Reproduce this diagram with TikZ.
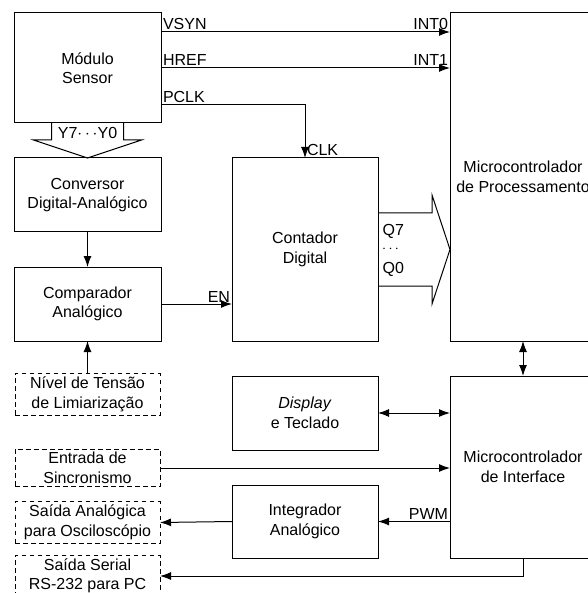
\documentclass[tikz,border=0pt]{standalone}
\usepackage{fontspec}
\setmainfont{Liberation Sans}
\usetikzlibrary{calc,arrows.meta}

\tikzset{
  blk/.style={draw, line width=1pt, align=center, minimum width=147pt, outer sep=0pt,
    font=\fontsize{16}{19.5}\selectfont},
  ext/.style={blk, dash pattern=on 4.5pt off 3.5pt, minimum width=145pt},
  sig/.style={line width=1pt, -{Latex[length=11pt,width=8pt]}},
  dsig/.style={line width=1pt, {Latex[length=11pt,width=8pt]}-{Latex[length=11pt,width=8pt]}},
  lbl/.style={font=\fontsize{16}{18}\selectfont, inner sep=1.5pt}
}

\begin{document}
\begin{tikzpicture}[x=1pt, y=-1pt]
  \useasboundingbox (0,0) rectangle (587,593);

  % Left column
  \node[blk, minimum height=110pt] (sensor) at (87.5, 68) {Módulo\\Sensor};
  \node[blk, minimum height=74pt] (dac) at (87.5, 195) {Conversor\\Digital-Analógico};
  \node[blk, minimum height=74pt] (comp) at (87.5, 304) {Comparador\\Analógico};
  \node[ext, minimum height=35pt] (nivel) at (87.5, 394.5) {Nível de Tensão\\de Limiarização};
  \node[ext, minimum height=36pt] (sync) at (87.5, 468) {Entrada de\\Sincronismo};
  \node[ext, minimum height=39pt] (saida) at (87.5, 522.5) {Saída Analógica\\para Osciloscópio};
  \node[ext, minimum height=36pt] (serial) at (87.5, 576) {Saída Serial\\RS-232 para PC};

  % Middle column
  \node[blk, minimum width=146pt, minimum height=183pt] (counter) at (305, 249.5) {Contador\\Digital};
  \node[blk, minimum width=146pt, minimum height=74pt] (display) at (305, 413) {\textit{Display}\\e Teclado};
  \node[blk, minimum width=146pt, minimum height=73pt] (integ) at (305, 521.5) {Integrador\\Analógico};

  % Microcontrollers (cut by the right edge)
  \node[blk, minimum width=146pt, minimum height=328pt] (mcproc) at (523, 177) {Microcontrolador\\de Processamento};
  \node[blk, minimum width=146pt, minimum height=182pt] (mcif) at (523, 467) {Microcontrolador\\de Interface};

  % Sensor signals
  \draw[sig] ($(sensor.north east)+(0,19)$) node[lbl, above right] {VSYN}
    -- ($(mcproc.west)!(sensor.north east)!(mcproc.west)+(0,19)$) node[lbl, above left] {INT0};
  \draw[sig] (sensor.east) node[lbl, above right] {HREF}
    -- (sensor.east -| mcproc.west) node[lbl, above left] {INT1};
  \coordinate (pclk) at ($(sensor.north east)+(0,92)$);
  \draw[sig] (pclk) node[lbl, above right] {PCLK} -| (counter.north)
    node[lbl, above right] {CLK};

  % Y7...Y0 bus
  \draw[line width=1pt] ($(sensor.south)+(-36,0)$) -- ++(0,17) -- ++(-18,0) -- (dac.north)
    -- ($(sensor.south)+(54,17)$) -- ++(-18,0) -- ++(0,-17);
  \node[lbl] (ybus) at ($(sensor.south)+(0,9.5)$) {Y7$\cdots$Y0};

  \draw[sig] (dac) -- (comp);
  \draw[sig] (nivel) -- (comp);
  \draw[sig] (comp.east) -- (comp.east -| counter.west) node[lbl, above left] {EN};

  % Q7...Q0 bus
  \draw[line width=1pt] ($(counter.east)+(0,-36.5)$) -- ++(54,0) -- ++(0,-18)
    -- (mcproc.west |- counter.east) -- ($(counter.east)+(54,54.5)$) -- ++(0,-18) -- ++(-54,0);
  \node[lbl, anchor=west, inner sep=0pt] (q7) at ($(counter.east)+(4.5,-18.5)$) {Q7};
  \node[lbl, anchor=west, inner sep=0pt, font=\fontsize{14}{14}\selectfont] (qdots) at ($(counter.east)+(4,0)$) {$\cdots$};
  \node[lbl, anchor=west, inner sep=0pt] (q0) at ($(counter.east)+(4.5,19.5)$) {Q0};

  % Interface side
  \draw[dsig] (mcproc) -- (mcif);
  \draw[dsig] (display.east) -- (display.east -| mcif.west);
  \draw[sig] (sync.east) -- (sync.east -| mcif.west);
  \draw[sig] (mcif.west |- integ.east) node[lbl, above left] {PWM} -- (integ.east);
  \draw[sig] (integ.west) -- (saida.east);
  \draw[sig] (mcif.south) |- (serial.east);
\end{tikzpicture}
\end{document}
